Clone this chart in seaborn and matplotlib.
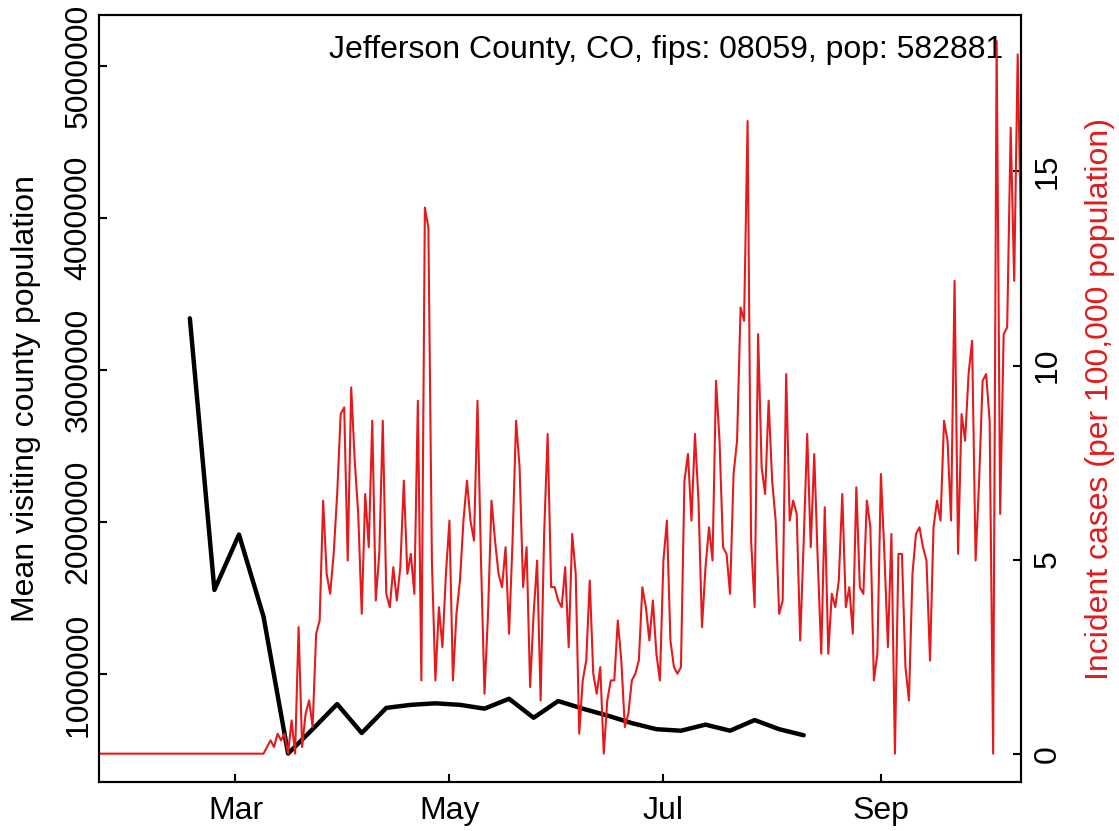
import datetime as dt
import matplotlib
matplotlib.use("Agg")
import matplotlib.pyplot as plt
import matplotlib.dates as mdates
import pandas as pd
import seaborn as sns

county = "Jefferson County, CO"
fips = "08059"
pop = 582881

# weekly mean visiting county population (black line), first week 2020-02-17
visit_start = "2020-02-17"
visit_pop = [3340000, 1555000, 1919000, 1380000, 480000, 640000, 805000, 615000,
             780000, 800000, 810000, 800000, 775000, 840000, 715000, 825000,
             775000, 730000, 680000, 640000, 630000, 670000, 630000, 700000,
             640000, 600000]

# daily new cases (red line), first day 2020-01-22
case_start = "2020-01-22"
cases = [0, 0, 0, 0, 0, 0, 0, 0, 0, 0,
         0, 0, 0, 0, 0, 0, 0, 0, 0, 0,
         0, 0, 0, 0, 0, 0, 0, 0, 0, 0,
         0, 0, 0, 0, 0, 0, 0, 0, 0, 0,
         0, 0, 0, 0, 0, 0, 0, 0,
         1, 2, 1, 3, 2, 3, 0, 5, 0, 19,
         1, 6, 8, 4, 18, 20, 38, 27, 24, 30,
         39, 51, 52, 29, 55, 44, 36, 21, 39, 31,
         50, 23, 30, 50, 24, 22, 28, 23, 28, 41,
         27, 30, 24, 53, 11, 82, 79, 29, 11, 22,
         16, 27, 35, 11, 21, 26, 35, 41, 35, 32,
         53, 29, 9, 21, 38, 32, 27, 25, 31, 18,
         32, 50, 43, 25, 31, 10, 21, 29, 8, 33,
         48, 25, 25, 23, 22, 28, 16, 33, 27, 3,
         11, 14, 26, 12, 9, 13, 0, 8, 11, 11,
         20, 14, 4, 6, 11, 12, 14, 25, 22, 17,
         23, 15, 11, 29, 35, 17, 13, 12, 13, 41,
         45, 35, 48, 38, 19, 28, 34, 29, 56, 47,
         31, 30, 24, 42, 47, 67, 65, 95, 32, 22,
         63, 43, 39, 53, 41, 35, 21, 23, 57, 35,
         38, 36, 17, 32, 48, 31, 45, 29, 15, 37,
         15, 24, 22, 26, 39, 22, 25, 18, 40, 25,
         24, 38, 34, 11, 15, 42, 30, 16, 33, 0,
         30, 30, 13, 8, 27, 33, 34, 31, 29, 14,
         34, 38, 35, 50, 47, 35, 71, 30, 51, 47,
         57, 62, 29, 41, 56, 57, 50, 0, 107, 36,
         63, 64, 94, 71, 105, 76]

month_ticks = ["2020-03-01", "2020-05-01", "2020-07-01", "2020-09-01"]
month_labels = ["Mar", "May", "Jul", "Sep"]
left_ticks = [1000000, 2000000, 3000000, 4000000, 5000000]
right_ticks = [0, 5, 10, 15]

visits = pd.DataFrame({
    "date": pd.date_range(visit_start, periods=len(visit_pop), freq="7D"),
    "pop": visit_pop,
})
inc = pd.DataFrame({
    "date": pd.date_range(case_start, periods=len(cases), freq="D"),
    "rate": [c / pop * 1e5 for c in cases],
})

sns.set_style("ticks")
plt.rcParams["font.family"] = ["Liberation Sans", "DejaVu Sans"]
plt.rcParams["text.color"] = "black"
plt.rcParams["axes.labelcolor"] = "black"
plt.rcParams["xtick.color"] = "black"
plt.rcParams["ytick.color"] = "black"
red = "#E41A1C"
fs = 23

fig, ax = plt.subplots(figsize=(11.19, 8.31), dpi=100)
fig.subplots_adjust(left=99 / 1119, right=1020.5 / 1119,
                    bottom=(831 - 782) / 831, top=(831 - 15) / 831)

sns.lineplot(data=visits, x="date", y="pop", ax=ax, color="black",
             linewidth=3.2, estimator=None)
ax2 = ax.twinx()
sns.lineplot(data=inc, x="date", y="rate", ax=ax2, color=red,
             linewidth=1.5, estimator=None)

mar1 = mdates.date2num(dt.datetime(2020, 3, 1))
ax.set_xlim(mar1 - 38.9, mar1 + 223.8)
ax.set_ylim(293000, 5333000)
ax2.set_ylim(-0.73, 19.03)

ax.set_xticks(pd.to_datetime(month_ticks), month_labels)
ax.set_yticks(left_ticks, [str(v) for v in left_ticks])
ax2.set_yticks(right_ticks, [str(v) for v in right_ticks])

ax.tick_params(axis="x", direction="in", length=6, width=1.5, pad=10,
               labelsize=fs, colors="black")
ax.tick_params(axis="y", direction="in", length=6, width=1.5, pad=4,
               labelsize=fs, labelrotation=90, colors="black")
ax2.tick_params(axis="y", direction="in", length=6, width=1.5, pad=9,
                labelsize=fs, labelrotation=90, colors="black")
plt.setp(ax.get_yticklabels(), va="center", ha="right")
plt.setp(ax2.get_yticklabels(), va="center", ha="left")

ax.set_xlabel("")
ax.set_ylabel("Mean visiting county population", fontsize=fs, va="center",
              color="black")
ax.yaxis.set_label_coords(-0.079, 0.5)
ax2.set_ylabel("Incident cases (per 100,000 population)", fontsize=fs,
               color=red, va="center", rotation=90)
ax2.yaxis.set_label_coords(1.086, 0.5)

for a in (ax, ax2):
    for s in a.spines.values():
        s.set_visible(True)
        s.set_linewidth(1.5)
        s.set_color("black")

ax.text(0.981, 0.954, f"{county}, fips: {fips}, pop: {pop}",
        transform=ax.transAxes, ha="right", va="center", fontsize=fs,
        color="black")

fig.savefig("out.png", dpi=100)
